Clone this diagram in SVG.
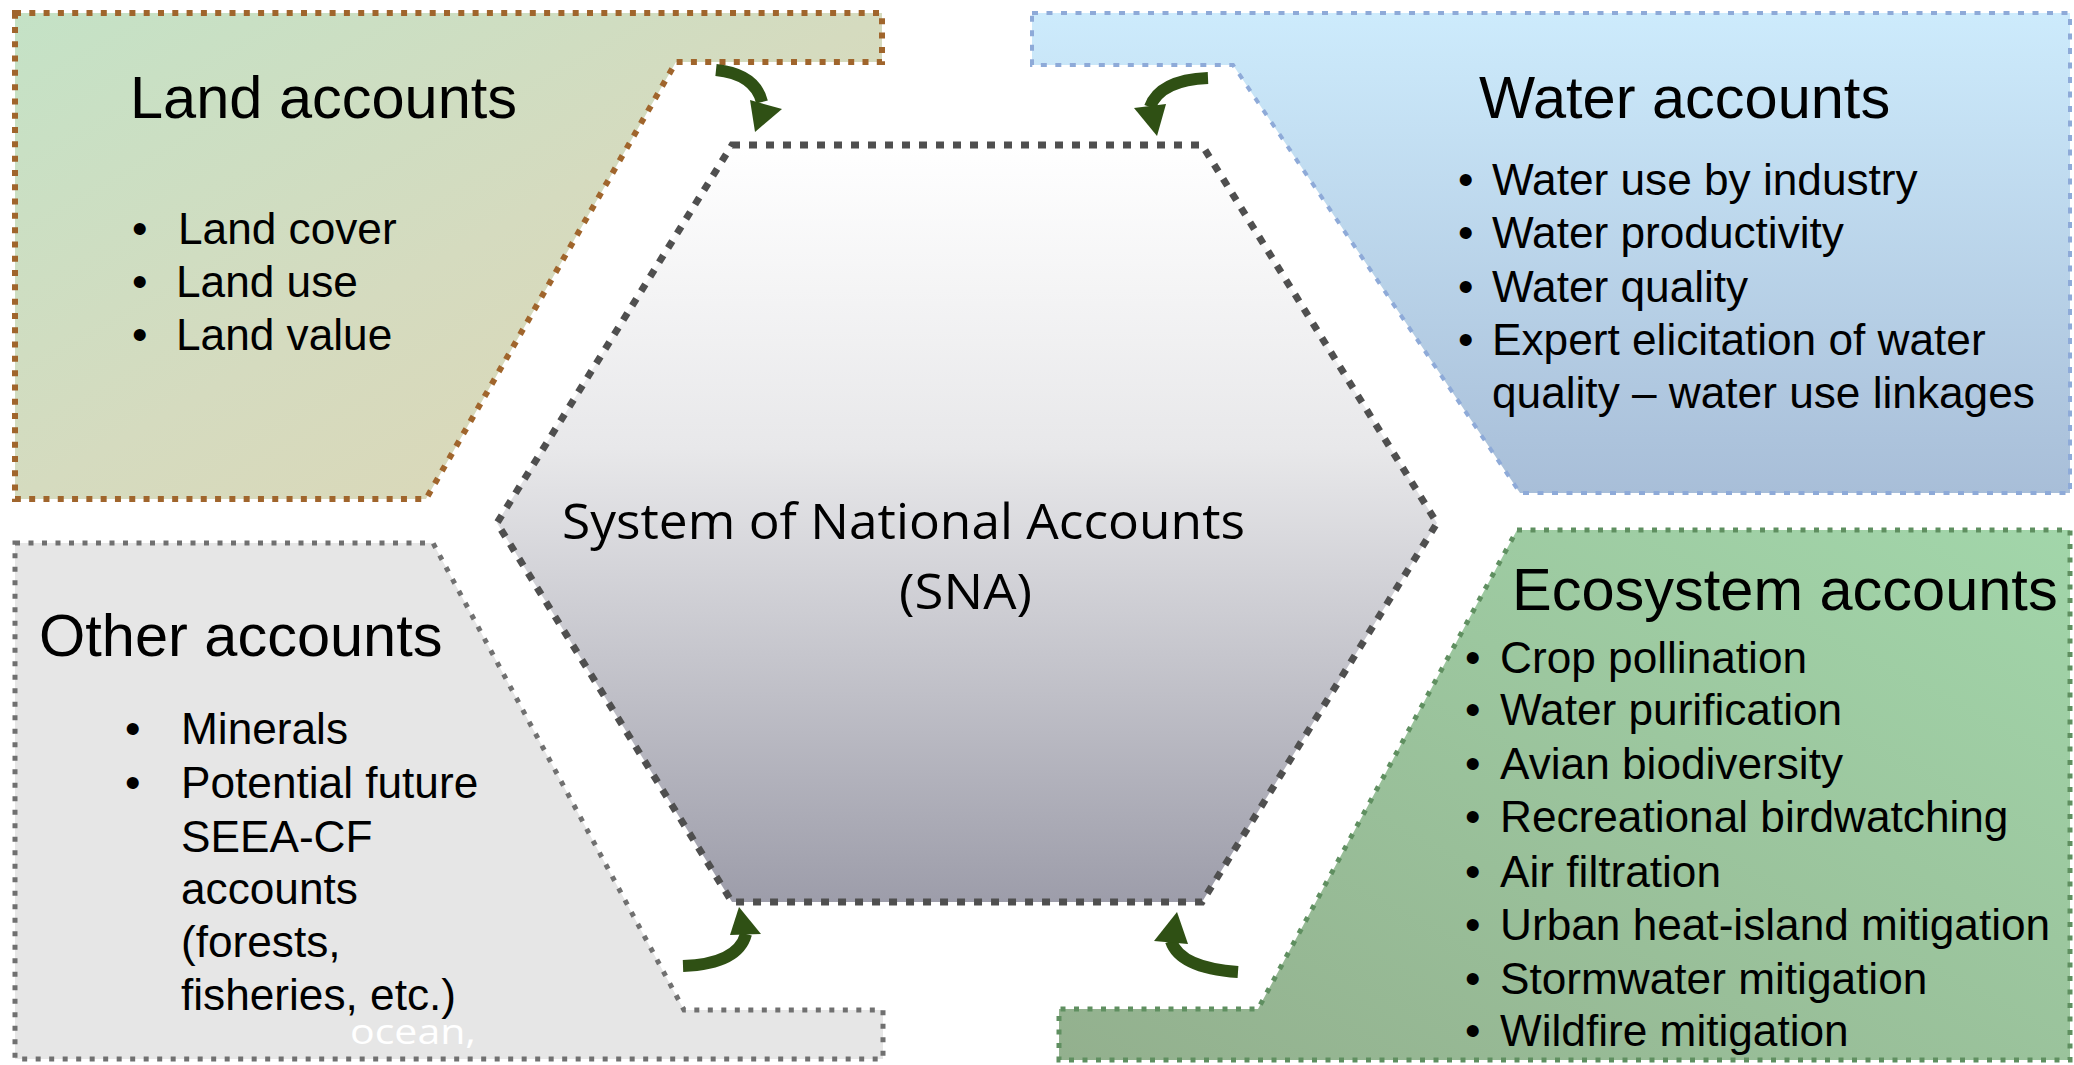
<svg xmlns="http://www.w3.org/2000/svg" width="2074" height="1065" viewBox="0 0 2074 1065">
<style>
.t{font-family:"Liberation Sans",Arial,sans-serif;fill:#000;}
.title{font-size:59.5px;}
.item{font-size:44.2px;}
.sna{font-family:"Open Sans","Noto Sans",sans-serif;font-size:50px;fill:#000;}
.arrow{fill:none;stroke:#2f5014;stroke-width:12;}
.head{fill:#2f5014;}
</style>
<defs>
<linearGradient id="gLand" x1="0" y1="0" x2="1" y2="1">
<stop offset="0" stop-color="#c4e2c6"/>
<stop offset="0.5" stop-color="#d5dbbf"/>
<stop offset="1" stop-color="#ded6b4"/>
</linearGradient>
<linearGradient id="gWater" x1="0" y1="0" x2="0" y2="1">
<stop offset="0" stop-color="#cdebfc"/>
<stop offset="1" stop-color="#a8bed8"/>
</linearGradient>
<linearGradient id="gEco" x1="1" y1="0" x2="0" y2="1">
<stop offset="0" stop-color="#a2d6aa"/>
<stop offset="1" stop-color="#93b08e"/>
</linearGradient>
<linearGradient id="gHex" x1="0" y1="0" x2="0" y2="1">
<stop offset="0" stop-color="#ffffff"/>
<stop offset="0.4" stop-color="#e8e8ea"/>
<stop offset="1" stop-color="#9d9daa"/>
</linearGradient>
</defs>
<rect width="2074" height="1065" fill="#ffffff"/>

<g id="land">
<polygon points="15,13 882,13 882,62 676,62 426,499 15,499" fill="url(#gLand)" stroke="#a0652c" stroke-width="6" stroke-dasharray="6 8.3"/>
<text class="t title" x="130" y="118">Land accounts</text>
<text class="t item" x="132" y="244">•</text>
<text class="t item" x="178" y="244">Land cover</text>
<text class="t item" x="132" y="297">•</text>
<text class="t item" x="176" y="297">Land use</text>
<text class="t item" x="132" y="350">•</text>
<text class="t item" x="176" y="350">Land value</text>
</g>

<g id="water">
<polygon points="1032,13 2070,13 2070,493 1520,493 1233,65 1032,65" fill="url(#gWater)" stroke="#8eaad8" stroke-width="4" stroke-dasharray="6 8.5"/>
<text class="t title" x="1479" y="118">Water accounts</text>
<text class="t item" x="1458" y="195">•</text>
<text class="t item" x="1492" y="195">Water use by industry</text>
<text class="t item" x="1458" y="248">•</text>
<text class="t item" x="1492" y="248">Water productivity</text>
<text class="t item" x="1458" y="302">•</text>
<text class="t item" x="1492" y="302">Water quality</text>
<text class="t item" x="1458" y="355">•</text>
<text class="t item" x="1492" y="355">Expert elicitation of water</text>
<text class="t item" x="1492" y="408">quality – water use linkages</text>
</g>

<g id="other">
<polygon points="15,543 433,543 684,1010 883,1010 883,1059 15,1059" fill="#e6e6e6" stroke="#707070" stroke-width="5" stroke-dasharray="5 8.5"/>
<text class="t title" x="39" y="656">Other accounts</text>
<text class="t item" x="125" y="744">•</text>
<text class="t item" x="181" y="744">Minerals</text>
<text class="t item" x="125" y="798">•</text>
<text class="t item" x="181" y="798">Potential future</text>
<text class="t item" x="181" y="852">SEEA-CF</text>
<text class="t item" x="181" y="904">accounts</text>
<text class="t item" x="181" y="957">(forests,</text>
<text class="t item" x="181" y="1010">fisheries, etc.)</text>
<text x="350" y="1044" font-family="Open Sans, Noto Sans, sans-serif" font-size="35" fill="#ffffff" textLength="126" lengthAdjust="spacingAndGlyphs">ocean,</text>
</g>

<g id="ecosystem">
<polygon points="1517,530 2070,530 2070,1060 1059,1060 1059,1009 1258,1009" fill="url(#gEco)" stroke="#5f8f60" stroke-width="5" stroke-dasharray="5 8.5"/>
<text class="t title" x="1512" y="610">Ecosystem accounts</text>
<text class="t item" x="1465" y="673">•</text>
<text class="t item" x="1500" y="673">Crop pollination</text>
<text class="t item" x="1465" y="725">•</text>
<text class="t item" x="1500" y="725">Water purification</text>
<text class="t item" x="1465" y="779">•</text>
<text class="t item" x="1500" y="779">Avian biodiversity</text>
<text class="t item" x="1465" y="832">•</text>
<text class="t item" x="1500" y="832">Recreational birdwatching</text>
<text class="t item" x="1465" y="887">•</text>
<text class="t item" x="1500" y="887">Air filtration</text>
<text class="t item" x="1465" y="940">•</text>
<text class="t item" x="1500" y="940">Urban heat-island mitigation</text>
<text class="t item" x="1465" y="994">•</text>
<text class="t item" x="1500" y="994">Stormwater mitigation</text>
<text class="t item" x="1465" y="1046">•</text>
<text class="t item" x="1500" y="1046">Wildfire mitigation</text>
</g>

<g id="sna">
<polygon points="732,145 1202,145 1437,523 1202,902 732,902 497,523" fill="url(#gHex)" stroke="#4f4f4f" stroke-width="7" stroke-dasharray="8 9"/>
<text class="sna" x="562" y="539" textLength="683" lengthAdjust="spacingAndGlyphs">System of National Accounts</text>
<text class="sna" x="899" y="609" textLength="133" lengthAdjust="spacingAndGlyphs">(SNA)</text>
</g>

<g id="connectors">
<path class="arrow" d="M716,70 Q755,74 762,102"/>
<polygon class="head" points="750,100 782,109 755,132"/>
<path class="arrow" d="M1208,78 Q1160,80 1150,107"/>
<polygon class="head" points="1134,108 1166,104 1157,136"/>
<path class="arrow" d="M683,966 Q738,964 746,934"/>
<polygon class="head" points="730,935 761,934 739,907"/>
<path class="arrow" d="M1238,972 Q1180,968 1171,941"/>
<polygon class="head" points="1154,941 1188,944 1177,912"/>
</g>
</svg>
